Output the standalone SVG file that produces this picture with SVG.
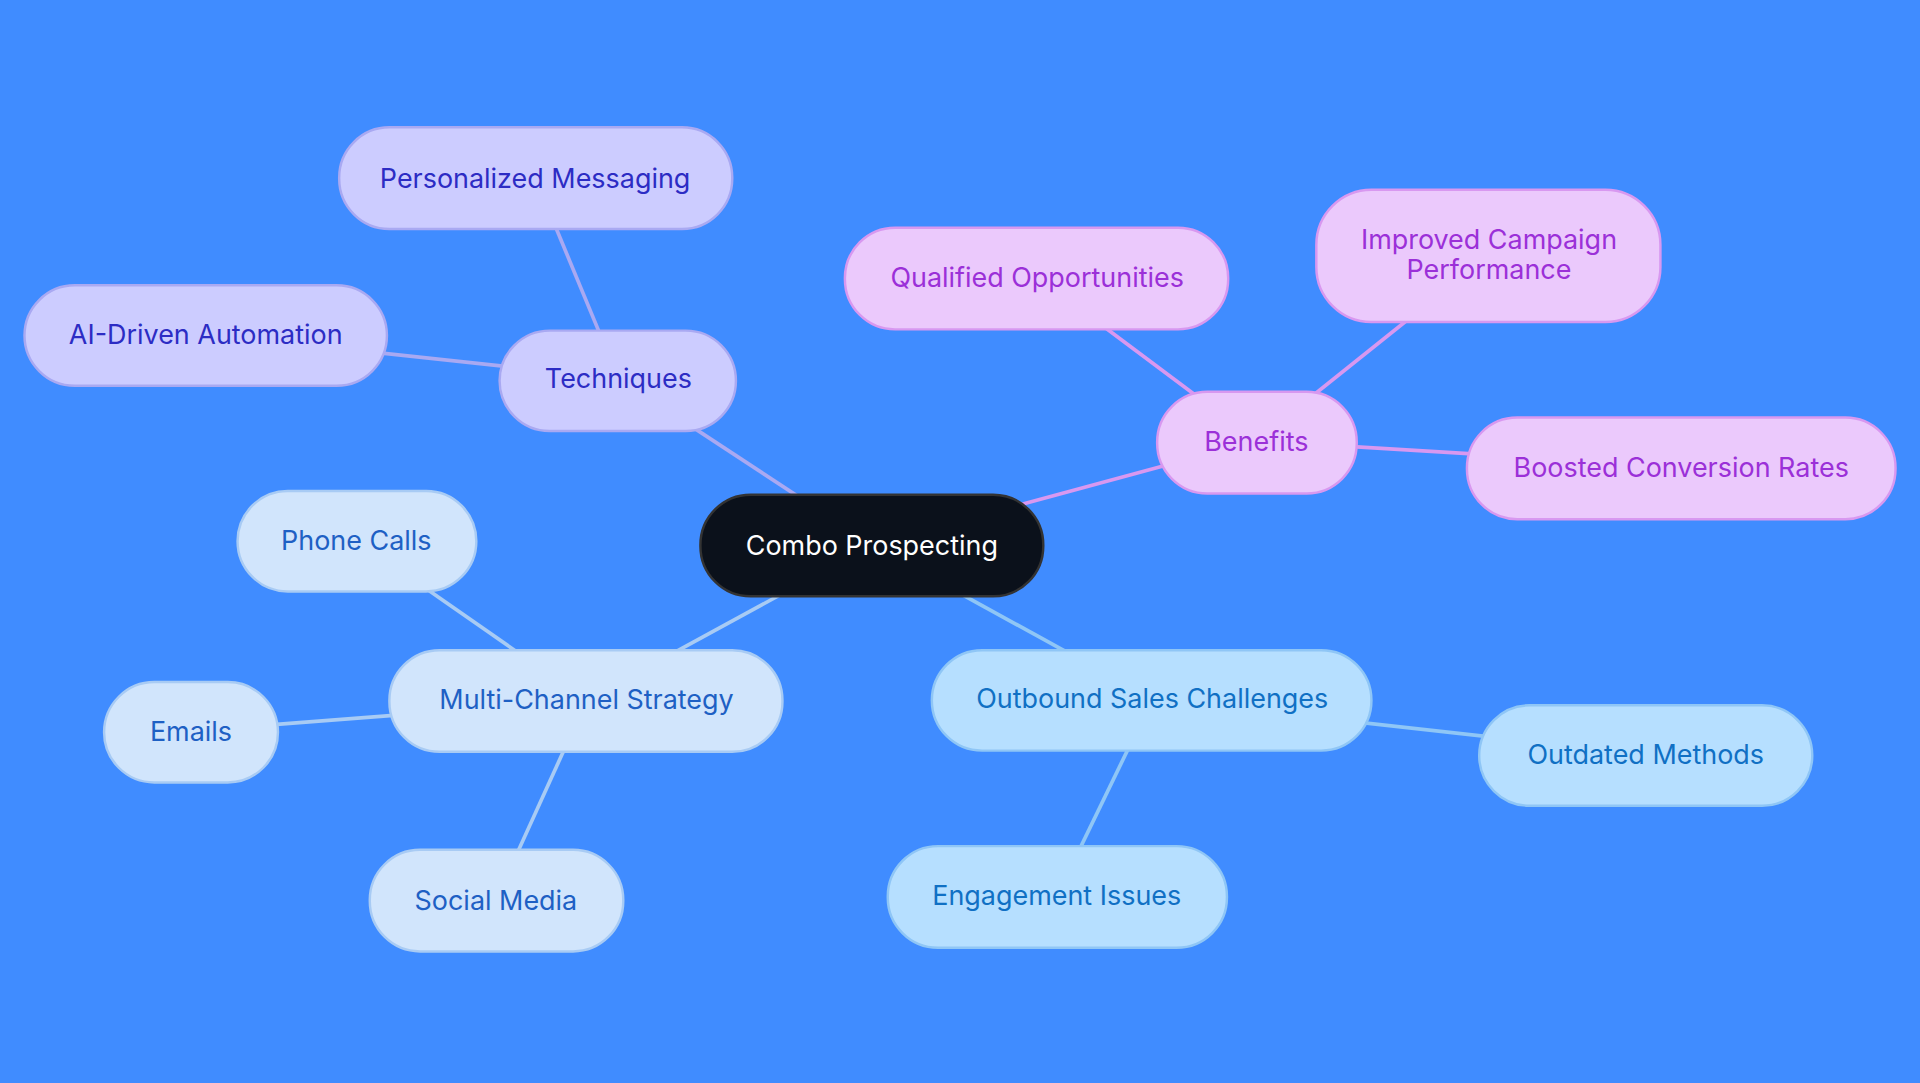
<svg xmlns="http://www.w3.org/2000/svg" width="1920" height="1083" viewBox="0 0 1920 1083">
<style>
text{font-family:Inter,"Noto Sans",sans-serif;font-size:22px;text-anchor:middle;dominant-baseline:central}
.t rect{fill:#CCCCFF;stroke:#A9A9F2;stroke-width:2}.t text{fill:#2C2CC4}
.b rect{fill:#EBC9FC;stroke:#D898F0;stroke-width:2}.b text{fill:#9B30D8}
.m rect{fill:#D1E5FC;stroke:#A8CBF4;stroke-width:2}.m text{fill:#1E60C4}
.o rect{fill:#B6DFFF;stroke:#8FC6F6;stroke-width:2}.o text{fill:#1070C4}
.e line{stroke-width:3}
</style>
<rect width="1920" height="1083" fill="#408CFF"/>
<g transform="scale(1.2245)">
<g id="connectors" class="e">
<line x1="712" y1="445" x2="505" y2="309" stroke="#A9A9F2"/>
<line x1="505" y1="309" x2="437" y2="145" stroke="#A9A9F2"/>
<line x1="505" y1="309" x2="168" y2="273" stroke="#A9A9F2"/>
<line x1="712" y1="445" x2="1026" y2="360" stroke="#D898F0"/>
<line x1="1026" y1="360" x2="847" y2="226" stroke="#D898F0"/>
<line x1="1026" y1="360" x2="1216" y2="208" stroke="#D898F0"/>
<line x1="1026" y1="360" x2="1373" y2="381" stroke="#D898F0"/>
<line x1="712" y1="445" x2="479" y2="572" stroke="#A8CBF4"/>
<line x1="479" y1="572" x2="291" y2="441" stroke="#A8CBF4"/>
<line x1="479" y1="572" x2="156" y2="597" stroke="#A8CBF4"/>
<line x1="479" y1="572" x2="405" y2="735" stroke="#A8CBF4"/>
<line x1="712" y1="445" x2="941" y2="571" stroke="#8FC6F6"/>
<line x1="941" y1="571" x2="1344" y2="616" stroke="#8FC6F6"/>
<line x1="941" y1="571" x2="863" y2="732" stroke="#8FC6F6"/>
</g>
<g id="root"><rect x="572" y="404" width="280" height="83" rx="41" fill="#0B111B" stroke="#333" stroke-width="2"/><text x="712" y="445" fill="#fff">Combo Prospecting</text></g>
<g id="techniques" class="t"><rect x="408" y="270" width="193" height="82" rx="41"/><text x="505" y="309">Techniques</text></g>
<g id="personalized" class="t"><rect x="277" y="104" width="321" height="83" rx="41"/><text x="437" y="145">Personalized Messaging</text></g>
<g id="ai" class="t"><rect x="20" y="233" width="296" height="82" rx="41"/><text x="168" y="273">AI-Driven Automation</text></g>
<g id="benefits" class="b"><rect x="945" y="320" width="163" height="83" rx="41"/><text x="1026" y="360">Benefits</text></g>
<g id="qualified" class="b"><rect x="690" y="186" width="313" height="83" rx="41"/><text x="847" y="226">Qualified Opportunities</text></g>
<g id="improved" class="b"><rect x="1075" y="155" width="281" height="108" rx="45"/><text x="1216" y="195">Improved Campaign</text><text x="1216" y="220">Performance</text></g>
<g id="boosted" class="b"><rect x="1198" y="341" width="350" height="83" rx="41"/><text x="1373" y="381">Boosted Conversion Rates</text></g>
<g id="multichannel" class="m"><rect x="318" y="531" width="321" height="83" rx="41"/><text x="479" y="571">Multi-Channel Strategy</text></g>
<g id="phone" class="m"><rect x="194" y="401" width="195" height="82" rx="41"/><text x="291" y="441">Phone Calls</text></g>
<g id="emails" class="m"><rect x="85" y="557" width="142" height="82" rx="41"/><text x="156" y="597">Emails</text></g>
<g id="social" class="m"><rect x="302" y="694" width="207" height="83" rx="41"/><text x="405" y="735">Social Media</text></g>
<g id="outbound" class="o"><rect x="761" y="531" width="359" height="82" rx="41"/><text x="941" y="570">Outbound Sales Challenges</text></g>
<g id="outdated" class="o"><rect x="1208" y="576" width="272" height="82" rx="41"/><text x="1344" y="616">Outdated Methods</text></g>
<g id="engagement" class="o"><rect x="725" y="691" width="277" height="83" rx="41"/><text x="863" y="731">Engagement Issues</text></g>
</g>
</svg>
